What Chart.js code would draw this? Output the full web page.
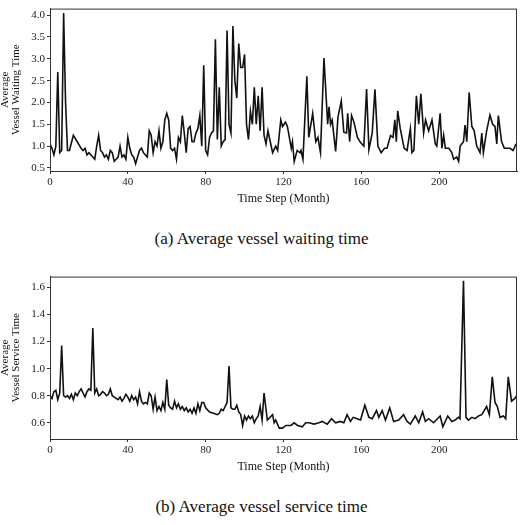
<!DOCTYPE html>
<html>
<head>
<meta charset="utf-8">
<script src="https://cdn.jsdelivr.net/npm/chart.js"></script>
<style>
  body { margin:0; background:#fff; font-family:"Liberation Serif", "DejaVu Serif", serif; }
  .box { position:absolute; left:0; width:523px; }
  .cap { position:absolute; left:0; width:523px; text-align:center; font-size:17px; color:#111; }
</style>
</head>
<body>
<div class="box" style="top:0;height:210px"><canvas id="waitChart"></canvas></div>
<div class="cap" style="top:229px">(a) Average vessel waiting time</div>
<div class="box" style="top:268px;height:210px"><canvas id="serviceChart"></canvas></div>
<div class="cap" style="top:497px">(b) Average vessel service time</div>
<script>
// waiting time (months, value)
var waitMonths = [0,1,2,3,4,5,6,7,8,9,10,12,14,16,17,18,19,20,22,23,24,25,26,27,28,29,30,31,32,33,34,35,36,37,38,39,40,41,42,43,44,45,46,47,48,50,51,52,53,54,55,56,57,58,59,60,61,62,63,64,65,66,67,68,69,70,71,72,73,74,75,76,77,78,79,80,81,82,83,84,85,86,87,88,89,90,91,92,93,94,95,96,97,98,99,100,101,102,103,104,105,106,107,108,109,110,111,112,114.4,116,117,118.6,119.5,121,122,124,124.6,125.5,127,128.5,129,130,132,133,135,136.6,137.7,139,140.8,142.7,143.4,144.2,145,146.8,148,149.7,151,152.4,153,154,155,156.2,158,159.6,161.3,162.7,163.9,165.6,167,168.5,170.2,171.9,173.2,175,176.3,177.2,178,178.7,180,182,183.5,185.2,186,187,188.3,189.5,190.6,192,193,194.6,196.3,198,198.8,200.5,201.4,202.3,203.2,205,206.5,207.4,209,210,210.8,212.5,213.3,214.2,215.4,216.8,218,219.3,221,221.9,222.7,224.4,226.1,227.5,228.7,229.6,230.4,232.1,233.5,234.7,236.4,238,239.5];
var waitValues = [1.05,0.95,0.8,1.0,2.7,0.85,0.9,4.05,2.0,0.9,0.9,1.25,1.1,0.95,0.9,0.95,0.8,0.85,0.75,0.7,1.0,1.25,0.9,0.85,0.75,0.8,0.7,0.9,0.85,0.65,0.7,0.75,1.0,0.75,0.8,0.7,1.2,0.95,0.8,0.75,0.6,0.75,0.9,0.95,0.85,0.75,1.35,1.25,0.85,1.1,1.0,1.35,0.95,1.1,1.6,1.75,1.6,0.95,0.9,0.95,0.7,1.2,1.1,1.7,1.3,0.85,1.4,1.45,1.1,1.1,1.3,1.4,1.7,1.0,2.85,0.9,0.8,1.2,1.3,1.35,3.45,1.15,2.35,1.0,1.1,1.15,3.65,1.5,1.3,3.75,2.5,2.1,3.35,2.8,2.8,3.1,1.5,1.15,1.8,1.5,2.35,1.5,2.15,1.35,2.35,1.25,1.05,1.35,0.85,1.0,0.9,1.6,1.45,1.55,1.45,0.95,1.1,0.65,0.9,0.85,0.9,0.7,2.6,1.2,1.75,1.1,1.2,0.85,3.02,1.5,1.9,1.5,1.6,0.88,1.67,2.03,1.32,1.3,1.75,1.1,1.7,1.55,1.2,1.08,1.0,2.31,0.92,1.3,2.3,1.0,0.85,0.95,0.95,1.24,1.2,1.6,1.1,1.81,1.4,0.95,0.9,1.4,0.85,0.9,2.15,1.5,2.2,1.3,1.6,1.35,1.6,1.05,1.0,1.75,0.95,1.25,0.95,0.95,0.85,0.7,0.75,0.65,1.0,1.1,1.48,1.1,2.23,1.45,1.35,1.0,0.85,1.3,0.85,1.35,1.71,1.5,1.45,1.05,1.7,1.1,0.95,0.95,0.95,0.9,1.05];

// service time (months, value)
var serviceMonths = [0,1,2,3,4,5,6,7,8,9,10,11,12,13,14,15,16,17,18,19,20,21,22,23,24,25,26,27,28,29,30,31,32,33,34,35,36,37,38,39,40,41,42,43,44,45,46,47,48,49,50,51,52,53,54,55,56,57,58,59,60,61,62,63,64,65,66,67,68,69,70,71,72,73,74,75,76,77,78,79,80,82,84,86,87,88,89,90,91,92,93,94,95,96,97,98,99,100,101,102,103,104,105,106,107,108,109,110,111.7,114.4,115.2,116,117.8,119.5,121.2,123.8,125.5,127.2,129.7,131.4,133.1,135.7,138.2,139.9,142.5,144.7,146.8,149.3,151,152.7,154.4,155.8,157.8,159.6,161.8,163.9,165.6,167.8,169,170.7,172.4,174.6,176.6,179.2,181.7,183.5,185.2,187.7,189.5,191.5,192.9,194.6,197.1,200.5,201.9,204.4,206.5,208.2,209.9,210.7,212.5,213.8,215,216.8,218.5,220.2,221.9,224.4,225.8,227.3,228.7,229.9,231.3,233,234.2,235.5,237.2,238.9,239.8];
var serviceValues = [0.8,0.78,0.83,0.84,0.77,0.82,1.17,0.8,0.79,0.8,0.78,0.81,0.77,0.82,0.8,0.83,0.85,0.82,0.79,0.83,0.85,0.84,1.3,0.82,0.85,0.8,0.81,0.83,0.82,0.8,0.81,0.85,0.8,0.79,0.78,0.77,0.79,0.76,0.78,0.81,0.79,0.76,0.8,0.77,0.79,0.74,0.83,0.76,0.74,0.75,0.74,0.82,0.8,0.7,0.79,0.69,0.72,0.69,0.75,0.7,0.92,0.73,0.71,0.7,0.76,0.71,0.74,0.7,0.72,0.69,0.71,0.68,0.7,0.67,0.71,0.67,0.74,0.69,0.75,0.75,0.71,0.68,0.67,0.66,0.67,0.7,0.69,0.72,0.75,1.02,0.71,0.7,0.7,0.73,0.68,0.66,0.58,0.65,0.62,0.65,0.63,0.65,0.6,0.63,0.65,0.72,0.62,0.82,0.62,0.66,0.6,0.62,0.56,0.56,0.58,0.58,0.6,0.58,0.57,0.6,0.6,0.59,0.6,0.61,0.59,0.63,0.6,0.61,0.6,0.66,0.61,0.64,0.63,0.62,0.73,0.64,0.63,0.69,0.64,0.69,0.62,0.71,0.61,0.62,0.66,0.61,0.59,0.65,0.6,0.68,0.61,0.63,0.6,0.65,0.57,0.65,0.61,0.62,0.64,0.63,1.65,0.64,0.62,0.64,0.63,0.65,0.66,0.72,0.66,0.94,0.75,0.72,0.64,0.65,0.63,0.94,0.76,0.78,0.8];

var xTicks = [0,40,80,120,160,200];
var waitTicks = [0.5,1.0,1.5,2.0,2.5,3.0,3.5,4.0];
var serviceTicks = [0.6,0.8,1.0,1.2,1.4,1.6];

var serif = '"Liberation Serif", "DejaVu Serif", serif';

// box around the plot area
var frame = {
    id: 'frame',
    afterDraw: function (chart) {
        var a = chart.chartArea, ctx = chart.ctx;
        ctx.save();
        ctx.strokeStyle = '#333';
        ctx.lineWidth = 1;
        ctx.strokeRect(a.left + 0.5, a.top + 0.5, a.right - a.left - 1, a.bottom - a.top);
        ctx.restore();
    }
};

function makeChart(id, months, values, yTicks, yMin, yMax, yTitle) {
    var pts = months.map(function (m, i) { return { x: m, y: values[i] }; });
    return new Chart(id, {
        type: 'line',
        data: { datasets: [{ data: pts, borderColor: '#111', borderWidth: 1.6, pointRadius: 0, tension: 0 }] },
        options: {
            responsive: true,
            maintainAspectRatio: false,
            animation: false,
            layout: { padding: { top: 8, right: 6, left: 0, bottom: 0 } },
            plugins: { legend: { display: false }, tooltip: { enabled: false } },
            scales: {
                x: {
                    type: 'linear', min: 0, max: 240,
                    afterBuildTicks: function (s) { s.ticks = xTicks.map(function (v) { return { value: v }; }); },
                    afterFit: function (s) { s.height = 39; },
                    grid: { drawOnChartArea: false, tickLength: 3, color: '#333' },
                    border: { color: '#333' },
                    ticks: { color: '#222', font: { family: serif, size: 11 }, maxRotation: 0, padding: 2 },
                    title: { display: true, text: 'Time Step (Month)', color: '#111', font: { family: serif, size: 12 }, padding: { top: 2 } }
                },
                y: {
                    min: yMin, max: yMax,
                    afterBuildTicks: function (s) { s.ticks = yTicks.map(function (v) { return { value: v }; }); },
                    afterFit: function (s) { s.width = 50; },
                    grid: { drawOnChartArea: false, tickLength: 3, color: '#333' },
                    border: { color: '#333' },
                    ticks: { color: '#222', font: { family: serif, size: 11 }, padding: 2,
                        callback: function (v) { return v.toFixed(1); } },
                    title: { display: true, text: ['Average', yTitle], color: '#111', font: { family: serif, size: 11, lineHeight: 1.0 }, padding: 0 }
                }
            }
        },
        plugins: [frame]
    });
}

makeChart('waitChart', waitMonths, waitValues, waitTicks, 0.43, 4.15, 'Vessel Waiting Time');
makeChart('serviceChart', serviceMonths, serviceValues, serviceTicks, 0.48, 1.68, 'Vessel Service Time');
</script>
</body>
</html>
